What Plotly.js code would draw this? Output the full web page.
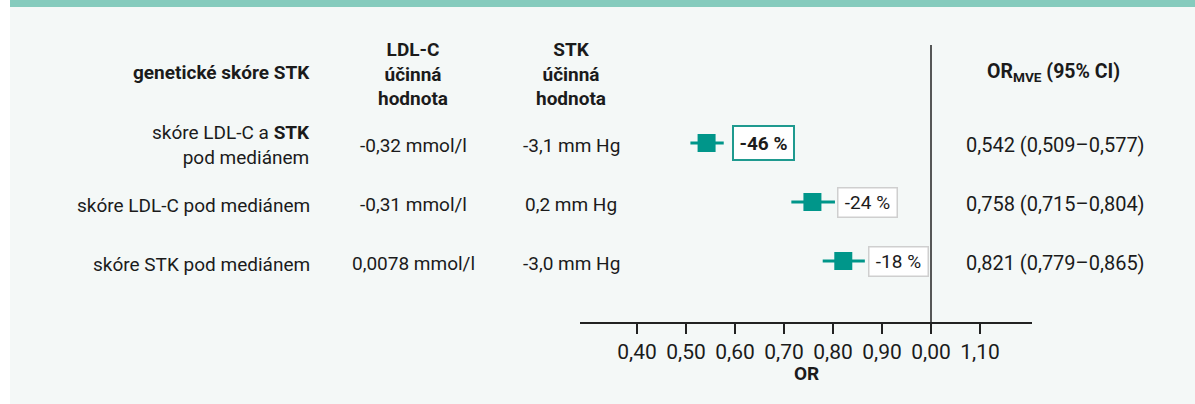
<!DOCTYPE html>
<html>
<head>
<meta charset="utf-8">
<script src="https://cdn.plot.ly/plotly-3.0.1.min.js"></script>
<style>html,body{margin:0;padding:0;background:#fff;}#chart{width:1195px;height:404px;}</style>
</head>
<body>
<div id="chart"></div>
<script>
// ---- data ----
const rowLabels = ['skóre LDL-C a <b>STK</b><br>pod mediánem', 'skóre LDL-C pod mediánem', 'skóre STK pod mediánem'];
const ldlEffect = ['-0,32 mmol/l', '-0,31 mmol/l', '0,0078 mmol/l'];
const stkEffect = ['-3,1 mm Hg', '0,2 mm Hg', '-3,0 mm Hg'];
const orValue = [0.542, 0.758, 0.821];
const ciLow = [0.509, 0.715, 0.779];
const ciHigh = [0.577, 0.804, 0.865];
const reduction = ['-46 %', '-24 %', '-18 %'];
const tickVals = [0.40, 0.50, 0.60, 0.70, 0.80, 0.90, 1.00, 1.10];
const tickText = ['0,40', '0,50', '0,60', '0,70', '0,80', '0,90', '0,00', '1,10'];
const headers = {
  score: 'genetické skóre STK',
  ldl: 'LDL-C<br>účinná<br>hodnota',
  stk: 'STK<br>účinná<br>hodnota',
  or: 'OR<sub>MVE</sub> (95% CI)',
  axis: 'OR'
};

// ---- layout helpers ----
const W = 1195, H = 404;
const FONT = 'Roboto, "Open Sans", sans-serif';
const INK = '#1b1b1b';
const TEAL = '#00968a';
const FS = 19;
const px = v => v / W;
const py = v => 1 - v / H;
const fmt = v => v.toFixed(3).replace('.', ',');
const rowIdx = rowLabels.map((_, i) => i);

const plotTop = 8, plotBottom = 322, row0 = 143, rowStep = 59;
const yTop = (plotTop - row0) / rowStep, yBot = (plotBottom - row0) / rowStep;

const trace = {
  type: 'scatter', mode: 'markers',
  x: orValue, y: rowIdx,
  marker: { symbol: 'square', size: 18, color: TEAL, line: { width: 0 } },
  error_x: {
    type: 'data', symmetric: false,
    array: orValue.map((v, i) => ciHigh[i] - v),
    arrayminus: orValue.map((v, i) => v - ciLow[i]),
    color: TEAL, thickness: 3, width: 0
  },
  hoverinfo: 'skip', showlegend: false, cliponaxis: false
};

const ann = [];
const txt = (text, x, y, anchor, size) => ({
  text, xref: 'paper', yref: 'paper', x: px(x), y: py(y),
  xanchor: anchor, yanchor: 'middle', showarrow: false,
  align: anchor === 'right' ? 'right' : 'center',
  font: { family: FONT, size: size || FS, color: INK }
});

ann.push(txt('<b>' + headers.score + '</b>', 312, 73, 'right'));
ann.push(txt('<b>' + headers.ldl + '</b>', 413, 74, 'center'));
ann.push(txt('<b>' + headers.stk + '</b>', 571, 74, 'center'));
ann.push(txt('<b>' + headers.or + '</b>', 1053, 73, 'center', 19.5));
ann.push(txt('<b>' + headers.axis + '</b>', 806, 373, 'center'));

rowIdx.forEach(i => {
  const yy = row0 + rowStep * i + 2;
  ann.push(txt(rowLabels[i], 312, i === 0 ? 145 : yy + 1, 'right'));
  ann.push(txt(ldlEffect[i], 413, yy, 'center'));
  ann.push(txt(stkEffect[i], 571, yy, 'center'));
  ann.push(txt(fmt(orValue[i]) + ' (' + fmt(ciLow[i]) + '–' + fmt(ciHigh[i]) + ')', 1055, yy, 'center', 20));
  const first = i === 0;
  ann.push({
    text: first ? '<b>' + reduction[i] + '</b>' : reduction[i],
    xref: 'x', yref: 'y', x: orValue[i], y: i, xanchor: 'left', yanchor: 'middle',
    xshift: 25, showarrow: false, align: 'center', width: first ? 53 : 54, height: first ? 26 : 24,
    bgcolor: '#ffffff', bordercolor: first ? '#1f9a8f' : '#cfcfcf',
    borderwidth: first ? 2 : 1.5, borderpad: first ? 3 : 2,
    font: { family: FONT, size: FS, color: INK }
  });
});

const layout = {
  width: W, height: H,
  margin: { l: 0, r: 0, t: 0, b: 0 },
  paper_bgcolor: '#ffffff', plot_bgcolor: 'rgba(0,0,0,0)',
  showlegend: false,
  xaxis: {
    domain: [px(580), px(1032)],
    range: [0.4 - 57 / 490, 0.4 - 57 / 490 + 452 / 490],
    showgrid: false, zeroline: false, fixedrange: true,
    showline: true, linecolor: '#222', linewidth: 1.5,
    ticks: 'outside', ticklen: 10, tickwidth: 1.5, tickcolor: '#222',
    tickvals: tickVals, ticktext: tickText,
    tickfont: { family: FONT, size: 21, color: INK }
  },
  yaxis: {
    domain: [1 - plotBottom / H, 1 - plotTop / H],
    range: [yBot, yTop],
    showgrid: false, zeroline: false, showline: false, showticklabels: false,
    ticks: '', fixedrange: true
  },
  shapes: [
    { type: 'rect', layer: 'below', xref: 'paper', yref: 'paper', x0: px(10), x1: 1, y0: 0, y1: 1, fillcolor: '#f4f8f7', line: { width: 0 } },
    { type: 'rect', layer: 'below', xref: 'paper', yref: 'paper', x0: px(10), x1: 1, y0: py(7), y1: 1, fillcolor: '#85cbbd', line: { width: 0 } },
    { type: 'line', xref: 'x', yref: 'paper', x0: 1, x1: 1, y0: 1 - plotBottom / H, y1: py(45), line: { color: '#222', width: 1.5 } }
  ],
  annotations: ann
};

Plotly.newPlot('chart', [trace], layout, { staticPlot: true, displayModeBar: false });
</script>
</body>
</html>
